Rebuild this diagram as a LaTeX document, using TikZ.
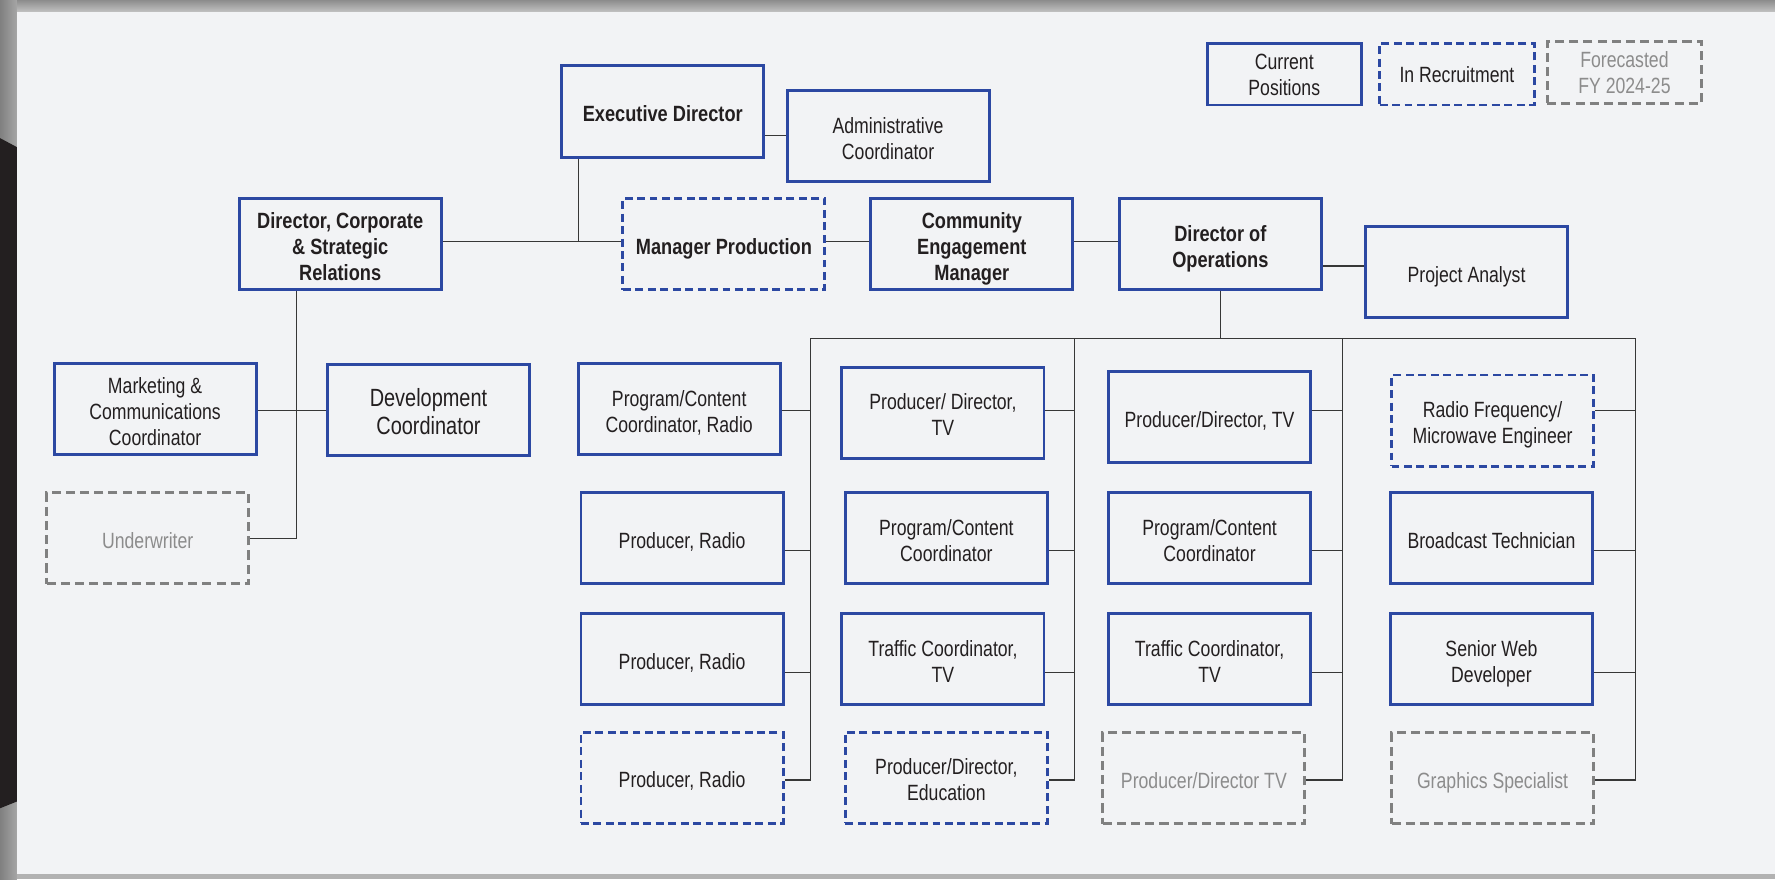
\documentclass[tikz,border=0pt]{standalone}
\usepackage{fontspec}
\setmainfont[FakeStretch=0.80,BoldFeatures={FakeStretch=0.825}]{Liberation Sans}
\newcommand{\tsA}{\rule{0pt}{23pt}}
\newcommand{\tsC}{\rule{0pt}{19.5pt}}
\newcommand{\tsB}{\rule[-5pt]{0pt}{5pt}}
\AtBeginDocument{\lineskiplimit=-100pt\relax}
\definecolor{bblue}{RGB}{44,72,162}
\definecolor{dgray}{RGB}{128,128,128}
\definecolor{txt}{RGB}{35,31,32}
\definecolor{gtxt}{RGB}{140,140,140}
\definecolor{panel}{RGB}{242,243,245}
\definecolor{wirec}{RGB}{55,55,55}
\begin{document}
\begin{tikzpicture}[x=1pt,y=-1pt,
  curbox/.style={draw=bblue,line width=2.6pt,align=center,inner sep=0pt,text=txt,
    font=\fontsize{19.5}{23}\selectfont,
    minimum width=178.5pt,minimum height=80.5pt},
  recbox/.style={curbox,dash pattern=on 7pt off 4pt},
  futbox/.style={curbox,draw=dgray,text=gtxt,dash pattern=on 8pt off 4.5pt},
  bf/.style={font=\fontsize{19.5}{23}\selectfont\bfseries},
  legbox/.style={minimum width=136.5pt,minimum height=54.5pt},
  wire/.style={draw=wirec,line width=1pt}]
\useasboundingbox (0,0) rectangle (1568,776.5);
% background
\fill[panel] (0,0) rectangle (1568,776.5);
\shade[top color=black!45,bottom color=black!25] (0,0) rectangle (1568,10);
\shade[left color=black!50,right color=black!35] (0,0) rectangle (15,776.5);
\fill[txt] (0,122) -- (15,130) -- (15,708) -- (0,714) -- cycle;
\fill[black!30] (15,772) rectangle (1568,776.5);
% legend
\node[curbox,legbox] (lcur) at (1134.5,65.5) {\tsC Current\\Positions\tsB};
\node[recbox,legbox] (lrec) at (1287,65.5) {\tsC In Recruitment\tsB};
\node[futbox,legbox] (lfut) at (1435,64) {\tsC Forecasted\\FY 2024-25\tsB};
% top level
\node[curbox,bf] (exec) at (585.5,98.5) {\tsA Executive Director\tsB};
\node[curbox] (admin) at (784.5,120) {\tsA Administrative\\Coordinator\tsB};
\node[curbox,bf] (corp) at (300.5,215.5) {\tsA Director, Corporate\\\& Strategic\\Relations\tsB};
\node[recbox,bf] (mgr) at (639.5,215.5) {\tsA Manager Production\tsB};
\node[curbox,bf] (cem) at (858.5,215.5) {\tsA Community\\Engagement\\Manager\tsB};
\node[curbox,bf] (ops) at (1078,215.5) {\tsA Director of\\Operations\tsB};
\node[curbox] (pa) at (1295.5,240.5) {\tsA Project Analyst\tsB};
% left branch
\node[curbox] (mkt) at (137,361.5) {\tsA Marketing \&\\Communications\\Coordinator\tsB};
\node[curbox,font=\fontsize{22}{25.5}\selectfont] (dev) at (378.5,362.5) {\tsA Development\\Coordinator\tsB};
\node[futbox] (und) at (130.5,475.5) {\tsA Underwriter\tsB};
% column 1
\node[curbox] (a1) at (600,361.5) {\tsA Program/Content\\Coordinator, Radio\tsB};
\node[curbox] (a2) at (602.5,475.5) {\tsA Producer, Radio\tsB};
\node[curbox] (a3) at (602.5,582) {\tsA Producer, Radio\tsB};
\node[recbox] (a4) at (602.5,687) {\tsA Producer, Radio\tsB};
% column 2
\node[curbox] (b1) at (833,364.5) {\tsA Producer/ Director,\\TV\tsB};
\node[curbox] (b2) at (836,475.5) {\tsA Program/Content\\Coordinator\tsB};
\node[curbox] (b3) at (833,582) {\tsA Traffic Coordinator,\\TV\tsB};
\node[recbox] (b4) at (836,687) {\tsA Producer/Director,\\Education\tsB};
% column 3
\node[curbox] (c1) at (1068.5,368.5) {\tsA Producer/Director, TV\tsB};
\node[curbox] (c2) at (1068.5,475.5) {\tsA Program/Content\\Coordinator\tsB};
\node[curbox] (c3) at (1068.5,582) {\tsA Traffic Coordinator,\\TV\tsB};
\node[futbox] (c4) at (1063.5,687.5) {\tsA Producer/Director TV\tsB};
% column 4
\node[recbox] (d1) at (1318.5,371.5) {\tsA Radio Frequency/\\Microwave Engineer\tsB};
\node[curbox] (d2) at (1317.5,475.5) {\tsA Broadcast Technician\tsB};
\node[curbox] (d3) at (1317.5,582) {\tsA Senior Web\\Developer\tsB};
\node[futbox] (d4) at (1318.5,687.5) {\tsA Graphics Specialist\tsB};
% helper coordinates
\coordinate (hl) at (511,213);
\coordinate (pl) at (0,235);
\coordinate (lv) at (262,476);
\coordinate (s1) at (0,363);
\coordinate (s2) at (0,486);
\coordinate (s3) at (0,594);
\coordinate (s4) at (0,689);
\coordinate (bus1) at (716,299);
\coordinate (bus2) at (949,299);
\coordinate (bus3) at (1186,299);
\coordinate (bus4) at (1445,299);
% top connectors
\draw[wire] (corp.east |- hl) -- (mgr.west |- hl);
\draw[wire] (mgr.east |- hl) -- (cem.west |- hl);
\draw[wire] (cem.east |- hl) -- (ops.west |- hl);
\draw[wire] (exec.south -| hl) -- (hl);
\draw[wire] (admin.west) -- (admin.west -| exec.east);
\draw[wire] (ops.east |- pl) -- (pa.west |- pl);
% left connectors
\draw[wire] (corp.south -| lv) -- (lv) -- (und.east |- lv);
\draw[wire] (mkt.east |- s1) -- (dev.west |- s1);
% bus
\draw[wire] (ops.south) -- (ops.south |- bus1);
\draw[wire] (bus1) -- (bus4);
\foreach \c/\b in {a/bus1,b/bus2,c/bus3,d/bus4}{
  \draw[wire] (\b) -- (\b |- s4) -- (\c4.east |- s4);
  \draw[wire] (\c1.east |- s1) -- (\b |- s1);
  \draw[wire] (\c2.east |- s2) -- (\b |- s2);
  \draw[wire] (\c3.east |- s3) -- (\b |- s3);
}
\end{tikzpicture}
\end{document}
